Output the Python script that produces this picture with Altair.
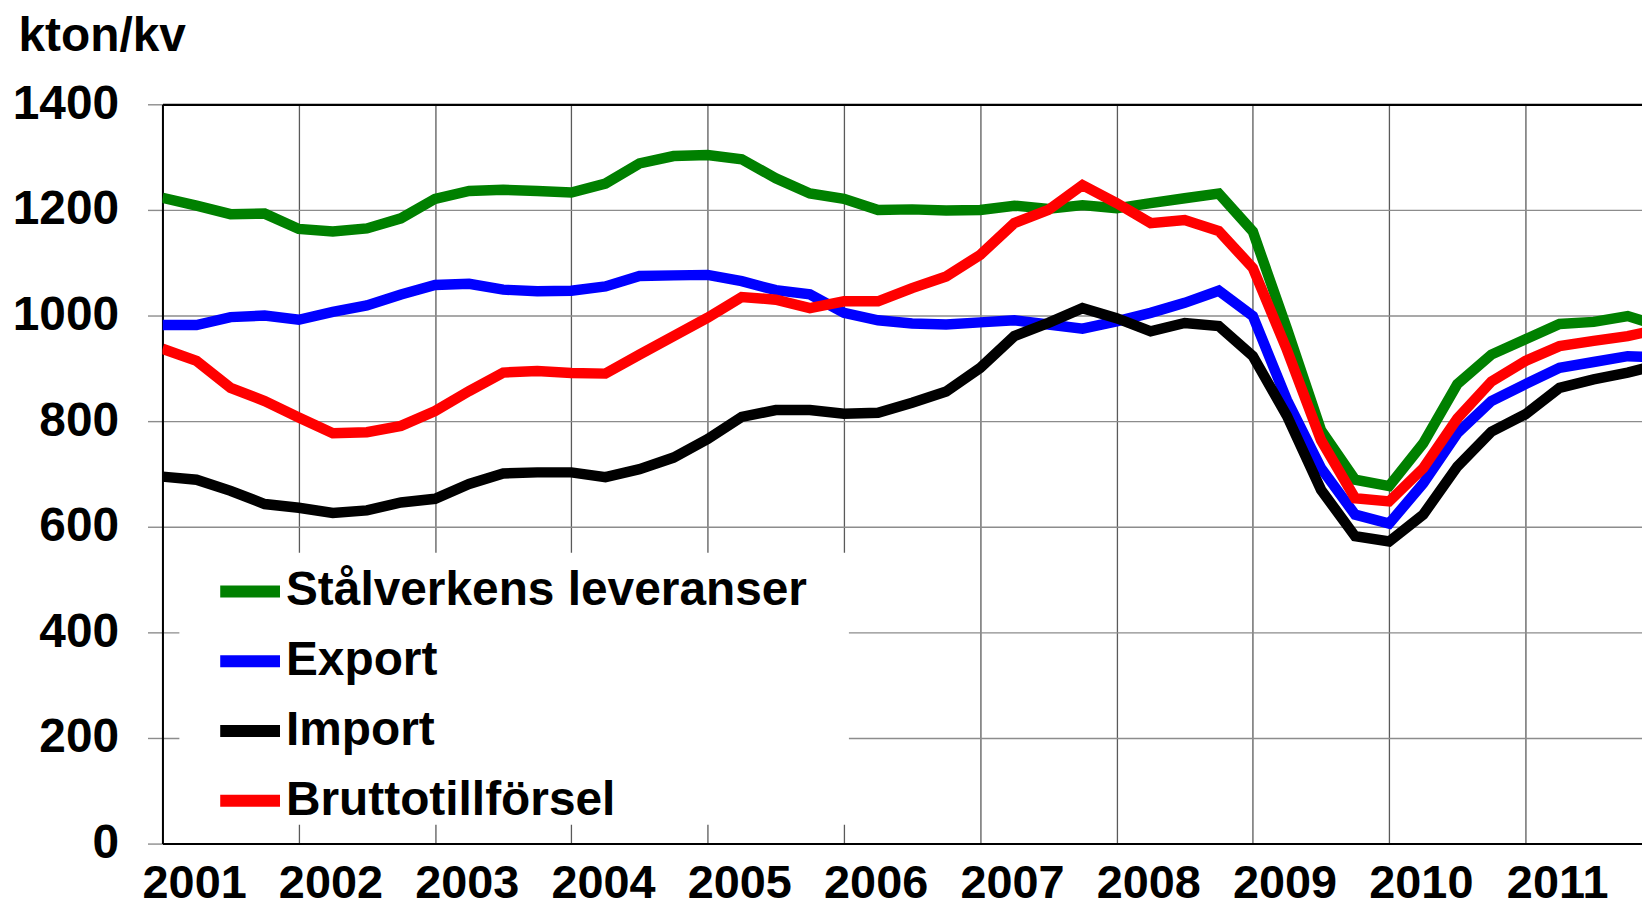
import altair as alt
import pandas as pd

# Quarterly index: 0 = 2001 Q1
series_names = ["Stålverkens leveranser", "Export", "Import", "Bruttotillförsel"]
series_colors = ["#008000", "#0000ff", "#000000", "#ff0000"]

staalverkens = [1223, 1208, 1192, 1193, 1164, 1159, 1165, 1184, 1221, 1236, 1238, 1236, 1233, 1250, 1288,
                1302, 1304, 1296, 1260, 1231, 1221, 1200, 1201, 1199, 1200, 1208, 1202, 1209, 1203,
                1213, 1222, 1231, 1159, 975, 783, 689, 677, 758, 870, 926, 955, 984, 988, 999, 979]
export = [982, 982, 997, 1000, 992, 1007, 1019, 1040, 1058, 1060, 1049, 1046, 1047, 1055, 1075,
          1076, 1077, 1065, 1048, 1040, 1005, 991, 985, 983, 987, 991, 983, 975, 989,
          1005, 1024, 1047, 999, 840, 711, 623, 606, 682, 777, 838, 870, 901, 912, 923, 920]
imp = [695, 689, 668, 643, 636, 626, 631, 646, 653, 681, 701, 703, 703, 694, 709,
       731, 766, 808, 821, 821, 814, 816, 835, 856, 901, 961, 986, 1014, 995,
       970, 986, 980, 923, 810, 670, 582, 572, 623, 714, 780, 813, 863, 879, 892, 908]
brutto = [937, 914, 863, 838, 807, 777, 779, 791, 819, 857, 892, 895, 891, 890, 926,
          961, 996, 1035, 1030, 1014, 1027, 1027, 1052, 1074, 1115, 1175, 1200, 1247, 1213,
          1175, 1181, 1160, 1090, 935, 764, 654, 648, 711, 805, 875, 914, 942, 952, 961, 975]

year_ticks = list(range(0, 44, 4))          # year boundaries (gridlines)
year_label_pos = [t + 0.93 for t in year_ticks]  # where the year labels sit
y_ticks = [0, 200, 400, 600, 800, 1000, 1200, 1400]

rows = []
for name, vals in zip(series_names, [staalverkens, export, imp, brutto]):
    for i, v in enumerate(vals):
        rows.append({"q": i, "value": v, "serie": name})
df = pd.DataFrame(rows)

FONT = "Liberation Sans"
FS = 48
x_scale = alt.Scale(domain=[0, 43.42], nice=False, zero=False)
y_scale = alt.Scale(domain=[0, 1400], nice=False)

x_grid = alt.X(
    "q:Q", scale=x_scale,
    axis=alt.Axis(
        orient="bottom",
        values=year_ticks, grid=True, gridColor="#5a5a5a", gridWidth=1.3,
        ticks=False, labels=False,
        domainColor="black", domainWidth=2, title=None,
    ),
)
x_labels = alt.X(
    "q:Q", scale=x_scale,
    axis=alt.Axis(
        orient="bottom",
        values=year_label_pos, labelExpr="2001 + floor(datum.value / 4)",
        grid=False, ticks=False, domain=False,
        labelFont=FONT, labelFontSize=47, labelFontWeight="bold", labelColor="black",
        labelPadding=17, labelFlush=False, labelOverlap=False, title=None,
    ),
)
y_axis = alt.Axis(
    values=y_ticks, format="d",
    grid=True,
    gridColor={"condition": {"test": "datum.value === 1400", "value": "black"}, "value": "#8c8c8c"},
    gridWidth={"condition": {"test": "datum.value === 1400", "value": 2.2}, "value": 1.4},
    tickSize=15, tickColor="#8c8c8c", tickWidth=1.4,
    domainColor="black", domainWidth=2,
    labelFont=FONT, labelFontSize=FS, labelFontWeight="bold", labelColor="black",
    labelPadding=29,
    title="kton/kv", titleAngle=0, titleX=-145, titleY=-54,
    titleAlign="left", titleBaseline="alphabetic",
    titleFont=FONT, titleFontSize=FS, titleFontWeight="bold", titleColor="black",
)
y_enc = alt.Y("value:Q", scale=y_scale, axis=y_axis)

color_enc = alt.Color(
    "serie:N",
    scale=alt.Scale(domain=series_names, range=series_colors),
    legend=alt.Legend(
        title=None, orient="none", legendX=0, legendY=466,
        padding=0, symbolType="stroke", symbolStrokeWidth=12, symbolSize=3600,
        clipHeight=46, rowPadding=22, symbolOffset=52, labelOffset=0,
        labelFont=FONT, labelFontSize=FS, labelFontWeight="bold", labelColor="black",
        labelLimit=2000,
    ),
)

legend_box = alt.Chart(pd.DataFrame({"a": [0]})).mark_rect(color="white").encode(
    x=alt.value(17), x2=alt.value(689), y=alt.value(450), y2=alt.value(723)
)

lines = alt.Chart(df).mark_line(strokeWidth=10.5, clip=True).encode(
    x=x_grid, y=y_enc, color=color_enc, order="q:Q"
)

label_carrier = alt.Chart(df).mark_point(opacity=0).encode(x=x_labels, y=y_enc)

chart = alt.layer(legend_box, lines, label_carrier).resolve_axis(x="independent").properties(
    width=1485, height=742,
    autosize=alt.AutoSizeParams(type="none"),
    padding={"left": 155, "top": 95, "right": 0, "bottom": 64},
    background="white",
).configure_view(stroke=None)

chart.save("out.html", embed_options={"renderer": "svg", "actions": False})
